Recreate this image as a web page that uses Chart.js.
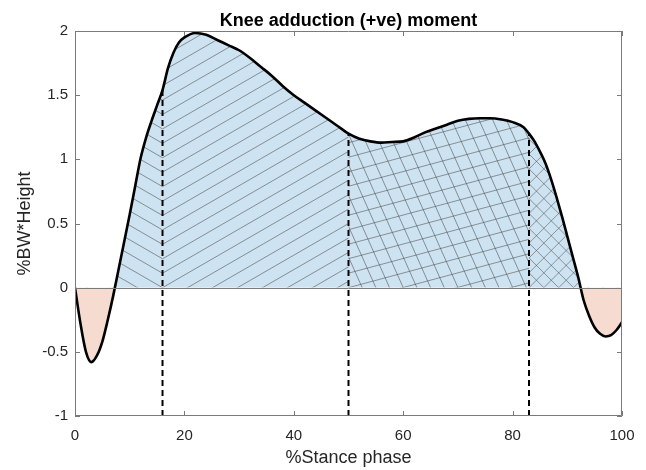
<!DOCTYPE html>
<html>
<head>
<meta charset="utf-8">
<script src="https://cdn.jsdelivr.net/npm/chart.js@4.4.1/dist/chart.umd.min.js"></script>
<style>
  html, body { margin: 0; padding: 0; background: #fff; }
</style>
</head>
<body>
<canvas id="kneeChart" width="646" height="470"></canvas>
<script>
// % stance phase and knee adduction moment (%BW*Height)
const stance = [0, 1, 2, 3, 4, 5, 6, 7, 8, 9, 10, 11, 12, 13, 14, 15, 16, 17, 18, 19, 20,
  22, 24, 26, 28, 30, 32, 34, 36, 38, 40, 42, 44, 46, 48, 50, 52, 54, 56, 58, 60,
  62, 64, 66, 68, 70, 72, 74, 76, 78, 80, 82, 83, 84, 85, 86, 87, 88, 89, 90, 91,
  92, 93, 94, 95, 96, 97, 98, 99, 100];
const moment = [0, -0.28, -0.5, -0.58, -0.53, -0.42, -0.25, -0.06, 0.15, 0.36, 0.57, 0.79, 1.01, 1.17, 1.3, 1.42, 1.54, 1.71, 1.83, 1.91, 1.95,
  1.985, 1.97, 1.93, 1.89, 1.85, 1.79, 1.72, 1.65, 1.57, 1.5, 1.44, 1.38, 1.32, 1.26, 1.2, 1.16, 1.14, 1.13, 1.135, 1.14,
  1.17, 1.21, 1.24, 1.27, 1.3, 1.315, 1.32, 1.32, 1.31, 1.29, 1.25, 1.2, 1.14, 1.06, 0.97, 0.85, 0.71, 0.56, 0.4, 0.24,
  0.08, -0.1, -0.22, -0.31, -0.36, -0.38, -0.37, -0.33, -0.27];

// sub-phase boundaries (dashed lines) and where they meet the curve
const phaseBounds = [16, 50, 83];
const phaseTop = [1.54, 1.2, 1.2];

// hatched zones
const zoneFrom = [0, 16, 50, 83];
const zoneTo = [16, 50, 83, 100];

const xTicks = [0, 20, 40, 60, 80, 100];
const yTicks = [-1, -0.5, 0, 0.5, 1, 1.5, 2];

const font = "'Liberation Sans', Arial, sans-serif";
const style = {
  posFill: "rgb(205,227,241)",
  negFill: "rgb(246,219,208)",
  axis: "#7a7a7a",
  text: "#262626",
  hatchColor: "rgba(70,70,70,0.7)",
  // angles in degrees for each zone, and perpendicular line gap in px
  hatchAngles: [[-30], [30], [15, -66], [45, -45]],
  hatchGaps: [[12.5], [12.5], [14, 12.5], [10.5, 10.5]],
  hatchPivot: [1, 1, 2, 3] // which boundary the pattern is anchored to
};

const points = stance.map((s, i) => ({ x: s, y: moment[i] }));

const datasets = [{
  data: points,
  borderColor: "#000",
  borderWidth: 2.6,
  pointRadius: 0,
  cubicInterpolationMode: "monotone",
  order: 1,
  fill: { target: { value: 0 }, above: style.posFill, below: style.negFill }
}];

phaseBounds.forEach((b, i) => {
  datasets.push({
    data: [{ x: b, y: yTicks[0] }, { x: b, y: phaseTop[i] }],
    borderColor: "#000",
    borderWidth: 2,
    borderDash: [6, 4],
    pointRadius: 0,
    fill: false,
    order: 0
  });
});

function drawLines(ctx, ox, oy, angle, gap) {
  ctx.save();
  ctx.translate(ox, oy);
  ctx.rotate(-angle * Math.PI / 180);
  const R = 900;
  const n = Math.ceil(R / gap);
  ctx.beginPath();
  for (let k = -n; k <= n; k++) {
    ctx.moveTo(-R, k * gap);
    ctx.lineTo(R, k * gap);
  }
  ctx.stroke();
  ctx.restore();
}

const hatchPlugin = {
  id: "hatch",
  beforeDatasetDraw(chart, args) {
    if (args.index !== 0) return;
    const { ctx, chartArea, scales: { x, y } } = chart;
    const line = args.meta.dataset;
    const y0 = y.getPixelForValue(0);
    const pts = args.meta.data;
    line.updateControlPoints(chartArea, "x");

    ctx.save();
    ctx.beginPath();
    line.path(ctx);
    ctx.lineTo(pts[pts.length - 1].x, y0);
    ctx.lineTo(pts[0].x, y0);
    ctx.closePath();
    ctx.clip();
    ctx.beginPath();
    ctx.rect(chartArea.left, chartArea.top, chartArea.width, y0 - chartArea.top);
    ctx.clip();

    ctx.strokeStyle = style.hatchColor;
    ctx.lineWidth = 0.7;
    zoneFrom.forEach((from, i) => {
      const xa = x.getPixelForValue(from);
      const xb = x.getPixelForValue(zoneTo[i]);
      const pivot = x.getPixelForValue([0].concat(phaseBounds)[style.hatchPivot[i]]);
      ctx.save();
      ctx.beginPath();
      ctx.rect(xa, chartArea.top, xb - xa, y0 - chartArea.top);
      ctx.clip();
      style.hatchAngles[i].forEach((a, j) => drawLines(ctx, pivot, y0, a, style.hatchGaps[i][j]));
      ctx.restore();
    });
    ctx.restore();
  }
};

const axesPlugin = {
  id: "matlabAxes",
  afterDatasetsDraw(chart) {
    const { ctx, chartArea: a, scales: { x, y } } = chart;
    const y0 = Math.round(y.getPixelForValue(0)) + 0.5;
    ctx.save();
    ctx.strokeStyle = style.axis;
    ctx.lineWidth = 1;
    ctx.beginPath();
    ctx.moveTo(a.left, y0);
    ctx.lineTo(a.right, y0);
    ctx.stroke();

    ctx.beginPath();
    ctx.rect(Math.round(a.left) + 0.5, Math.round(a.top) + 0.5,
      Math.round(a.width) - 1, Math.round(a.height) - 1);
    const tl = 5;
    xTicks.forEach(v => {
      const px = Math.round(x.getPixelForValue(v)) + 0.5;
      ctx.moveTo(px, a.bottom); ctx.lineTo(px, a.bottom - tl);
      ctx.moveTo(px, a.top); ctx.lineTo(px, a.top + tl);
    });
    yTicks.forEach(v => {
      const py = Math.round(y.getPixelForValue(v)) + 0.5;
      ctx.moveTo(a.left, py); ctx.lineTo(a.left + tl, py);
      ctx.moveTo(a.right, py); ctx.lineTo(a.right - tl, py);
    });
    ctx.stroke();

    ctx.fillStyle = "#000";
    ctx.font = "bold 18px " + font;
    ctx.textAlign = "center";
    ctx.textBaseline = "alphabetic";
    ctx.fillText("Knee adduction (+ve) moment", (a.left + a.right) / 2, 26);
    ctx.restore();
  }
};

new Chart(document.getElementById("kneeChart"), {
  type: "line",
  data: { datasets: datasets },
  options: {
    responsive: false,
    animation: false,
    layout: { padding: { top: 31, right: 24, left: 0, bottom: 0 } },
    plugins: { legend: { display: false }, tooltip: { enabled: false } },
    scales: {
      x: {
        type: "linear",
        min: 0,
        max: 100,
        afterFit: s => { s.height = 54; },
        afterBuildTicks: s => { s.ticks = xTicks.map(v => ({ value: v })); },
        grid: { display: false, drawTicks: false },
        border: { display: false },
        ticks: { color: style.text, padding: 11, maxRotation: 0, callback: v => String(v), font: { family: font, size: 15 } },
        title: { display: true, text: "%Stance phase", color: style.text, padding: { top: 0, bottom: 1 },
          font: { family: font, size: 18 } }
      },
      y: {
        min: -1,
        max: 2,
        afterFit: s => { s.width = 75; },
        afterBuildTicks: s => { s.ticks = yTicks.map(v => ({ value: v })); },
        grid: { display: false, drawTicks: false },
        border: { display: false },
        ticks: { color: style.text, padding: 7, callback: v => String(v), font: { family: font, size: 15 } },
        title: { display: true, text: "%BW*Height", color: style.text, padding: { top: 14, bottom: 0 },
          font: { family: font, size: 18 } }
      }
    }
  },
  plugins: [hatchPlugin, axesPlugin]
});
</script>
</body>
</html>
